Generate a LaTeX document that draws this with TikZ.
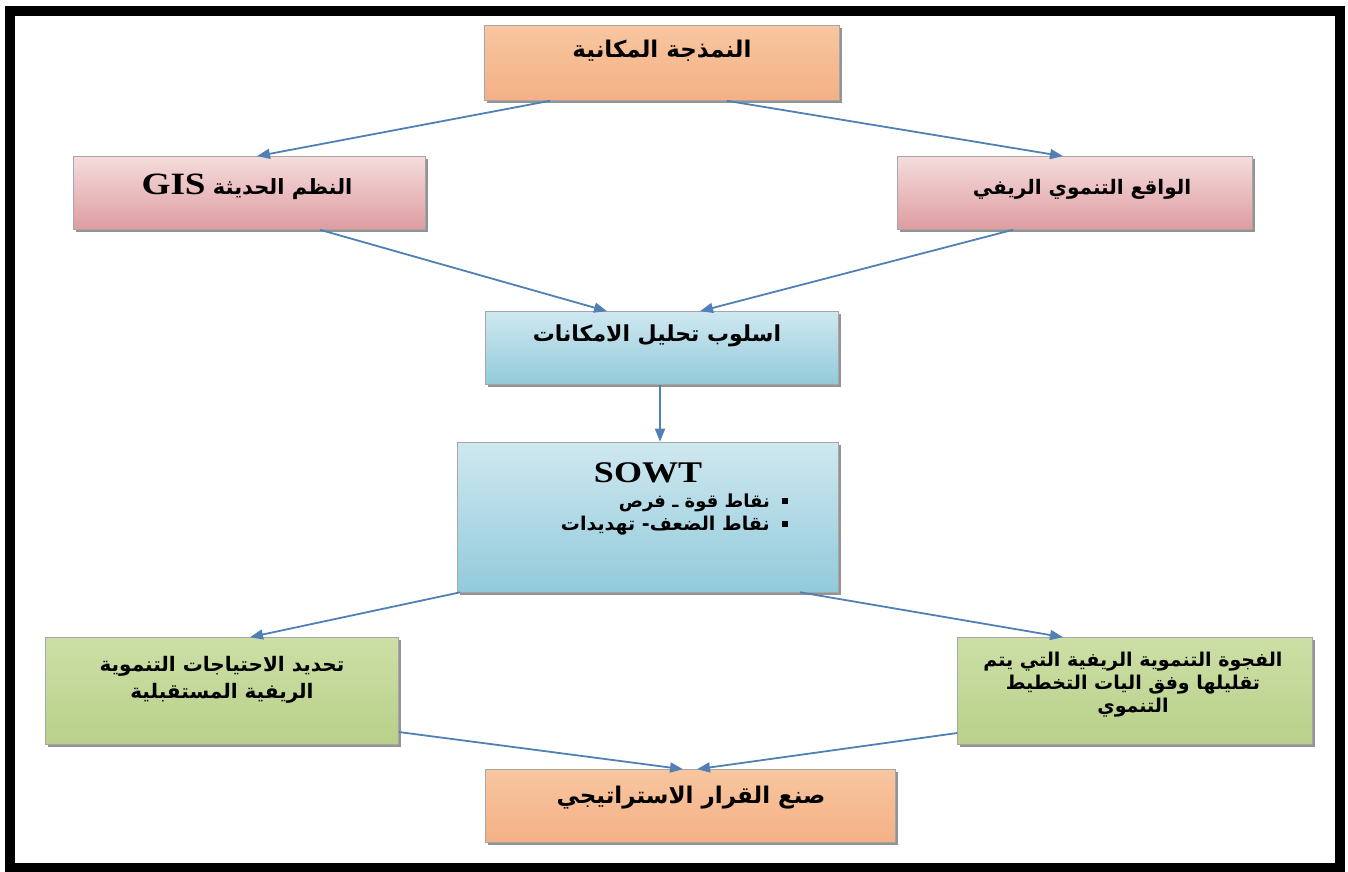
\documentclass[tikz,border=0pt]{standalone}
\usepackage{fontspec}
\TeXXeTstate=1
\newfontfamily\arabicfont[Script=Arabic]{DejaVu Sans}
\newfontfamily\latinserif[FakeStretch=1.2]{Liberation Serif}
\usetikzlibrary{arrows.meta,shadows}

\definecolor{orA}{HTML}{F8C6A0}
\definecolor{orB}{HTML}{FCDCC4}
\definecolor{orC}{HTML}{F4B085}
\definecolor{pkA}{HTML}{F5DCDC}
\definecolor{pkB}{HTML}{EDC0C2}
\definecolor{pkC}{HTML}{DE9CA0}
\definecolor{blA}{HTML}{CFE8F0}
\definecolor{blB}{HTML}{B5DDE8}
\definecolor{blC}{HTML}{92CADB}
\definecolor{gnA}{HTML}{CDDFA6}
\definecolor{gnB}{HTML}{E6EFD2}
\definecolor{gnC}{HTML}{B8D08A}
\definecolor{link}{HTML}{5080B5}

% one right-to-left line of Arabic
\newcommand{\arline}[1]{\beginR #1\endR}
% bold Arabic at a given size and line spacing
\newcommand{\arsize}[2]{\arabicfont\bfseries\fontsize{#1}{#2}\selectfont}
% square bullet of the SOWT list
\newcommand{\sqbullet}{\raisebox{4pt}{\rule{6pt}{6pt}}\hspace{12pt}}

\tikzset{
  box/.style={draw=black!35, line width=0.6pt, inner sep=0pt,
    drop shadow={shadow xshift=2.5pt, shadow yshift=-2.5pt, fill=black!50, opacity=0.85}},
  orangebox/.style={box, top color=orA, middle color=orB, bottom color=orC},
  pinkbox/.style={box, top color=pkA, middle color=pkB, bottom color=pkC},
  bluebox/.style={box, top color=blA, middle color=blB, bottom color=blC},
  greenbox/.style={box, top color=gnA, middle color=gnB, bottom color=gnC},
  lbl/.style={inner sep=0pt, align=center, text=black},
  link/.style={draw=link, line width=1.8pt, -{Triangle[length=13pt,width=10pt]}},
}

\begin{document}
\begin{tikzpicture}[x=1pt, y=-1pt]
  \useasboundingbox (0,0) rectangle (1348,871);
  % outer frame
  \draw[line width=10pt] (10,11) rectangle (1340,868);

  % boxes
  \node[orangebox, minimum width=355pt, minimum height=75pt] (top) at (662,63) {};
  \node[pinkbox, minimum width=352pt, minimum height=73pt] (gis) at (249,193) {};
  \node[pinkbox, minimum width=355pt, minimum height=73pt] (rural) at (1075,193) {};
  \node[bluebox, minimum width=353pt, minimum height=73pt] (swa) at (662,348) {};
  \node[bluebox, minimum width=381pt, minimum height=150pt] (sowt) at (648,517) {};
  \node[greenbox, minimum width=353pt, minimum height=107pt] (needs) at (222,691) {};
  \node[greenbox, minimum width=355pt, minimum height=107pt] (gap) at (1135,691) {};
  \node[orangebox, minimum width=410pt, minimum height=73pt] (decision) at (690,806) {};

  % labels
  \node[lbl, font=\arsize{23}{28}] (topT) at (662,51) {\arline{النمذجة المكانية}};
  \node[lbl, font=\arsize{21}{26}] (gisT) at (247,187) {\arline{النظم الحديثة \beginL{\latinserif\bfseries\fontsize{31}{34}\selectfont GIS}\endL}};
  \node[lbl, font=\arsize{20}{25}] (ruralT) at (1082,189) {\arline{الواقع التنموي الريفي}};
  \node[lbl, font=\arsize{22}{27}] (swaT) at (657,336) {\arline{اسلوب تحليل الامكانات}};
  \node[lbl] (sowtT) at (648,473) {\latinserif\bfseries\fontsize{30}{34}\selectfont SOWT};
  \node[lbl, anchor=east, font=\arsize{18}{22}] (sowtA) at (788,503) {\arline{\sqbullet نقاط قوة ـ فرص}};
  \node[lbl, anchor=east, font=\arsize{19}{23}] (sowtB) at (788,526) {\arline{\sqbullet نقاط الضعف-  تهديدات}};
  \node[lbl, font=\arsize{20}{27}] (needsT) at (222,680) {\arline{تحديد الاحتياجات التنموية}\\\arline{الريفية المستقبلية}};
  \node[lbl, font=\arsize{19}{23}] (gapT) at (1133,685) {\arline{الفجوة التنموية الريفية  التي يتم}\\\arline{تقليلها وفق اليات التخطيط}\\\arline{التنموي}};
  \node[lbl, font=\arsize{23}{28}] (decisionT) at (691,798) {\arline{صنع القرار الاستراتيجي}};

  % connectors
  \draw[link] ([xshift=-112pt]top.south) -- ([xshift=8pt]gis.north);
  \draw[link] ([xshift=65pt]top.south) -- ([xshift=-12pt]rural.north);
  \draw[link] ([xshift=71pt]gis.south) -- ([xshift=-55pt]swa.north);
  \draw[link] ([xshift=-62pt]rural.south) -- ([xshift=38pt]swa.north);
  \draw[link] ([xshift=-2pt]swa.south) -- ([xshift=12pt]sowt.north);
  \draw[link] ([xshift=3pt]sowt.south west) -- ([xshift=28pt]needs.north);
  \draw[link] ([xshift=152pt]sowt.south) -- ([xshift=-72pt]gap.north);
  \draw[link] ([yshift=-41pt]needs.east) -- ([xshift=-7pt]decision.north);
  \draw[link] ([yshift=-42pt]gap.west) -- ([xshift=7pt]decision.north);
\end{tikzpicture}
\end{document}
